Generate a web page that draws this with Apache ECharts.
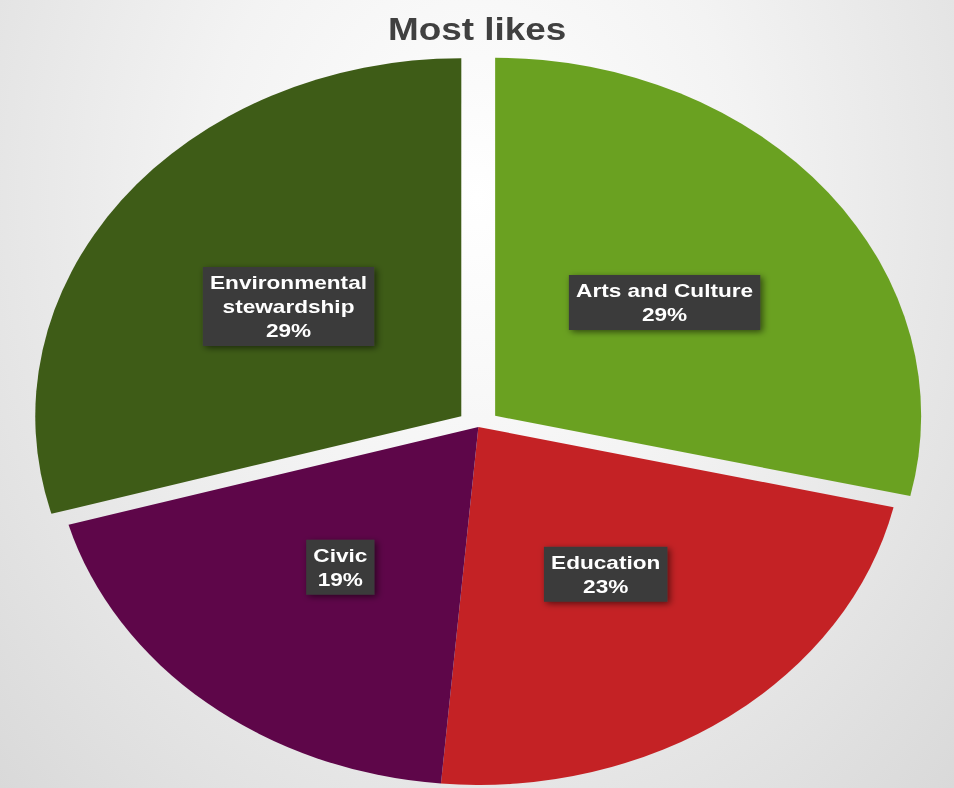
<!DOCTYPE html>
<html>
<head>
<meta charset="utf-8">
<script src="https://cdn.jsdelivr.net/npm/echarts@6/dist/echarts.min.js"></script>
<style>
  html, body { margin: 0; padding: 0; overflow: hidden; }
  body {
    width: 954px; height: 788px;
    background: radial-gradient(ellipse at 50% 25%, #ffffff 0%, #f3f3f3 40%, #d9d9d9 100%);
  }
  /* the source picture is stretched sideways, so stretch the chart the same way */
  #main { width: 802px; height: 788px; transform: scaleX(1.19); transform-origin: 0 0; }
</style>
</head>
<body>
<div id="main"></div>
<script>
// slices, clockwise from 12 o'clock (shares, labels round them)
var categories = ['Arts and Culture', 'Education', 'Civic', 'Environmental\nstewardship'];
var values = [28.6, 22.8, 19.2, 29.4];
var exploded = [true, false, false, true];
var colors = ['#6aa121', '#c42225', '#5e0649', '#3e5c17'];

var myChart = echarts.init(document.getElementById('main'), null, {renderer: 'svg'});

var data = [];
for (var i = 0; i < categories.length; i++) {
    data.push({
        name: categories[i],
        value: values[i],
        selected: exploded[i],
        itemStyle: {color: colors[i]}
    });
}

var option = {
    animation: false,
    title: {
        text: 'Most likes',
        left: 'center',
        top: 9,
        textStyle: {
            fontFamily: 'Liberation Sans',
            fontSize: 31,
            fontWeight: 'bold',
            color: '#404040'
        }
    },
    series: [
        {
            type: 'pie',
            center: [402, 427],
            radius: 358,
            startAngle: 90,
            clockwise: true,
            selectedMode: 'multiple',
            selectedOffset: 18,
            percentPrecision: 0,
            emphasis: {disabled: true},
            label: {
                show: true,
                position: 'inside',
                formatter: '{b}\n{d}%',
                fontFamily: 'Liberation Sans',
                fontSize: 19,
                fontWeight: 'bold',
                lineHeight: 24,
                color: '#ffffff',
                backgroundColor: '#3b3b3b',
                padding: [4, 6, 3, 6],
                shadowColor: 'rgba(0,0,0,0.55)',
                shadowBlur: 6,
                shadowOffsetX: 2,
                shadowOffsetY: 2
            },
            labelLine: {show: false},
            data: data
        }
    ]
};

myChart.setOption(option);
</script>
</body>
</html>
